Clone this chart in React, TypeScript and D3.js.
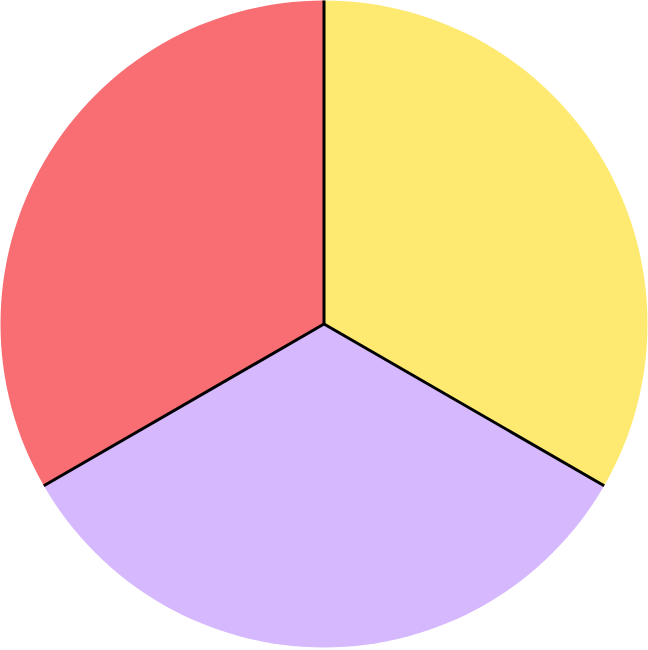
import React, { useEffect, useRef } from 'react';
import * as d3 from 'd3';

const categories = ['A', 'B', 'C'];
const values = [1, 1, 1];
const colors = ['#FEE971', '#D6B8FE', '#F96E73'];

const App: React.FC = () => {
    const ref = useRef<SVGSVGElement>(null);

    useEffect(() => {
        const width = 648;
        const height = 650;
        const cx = 324;
        const cy = 324;
        const radius = 323.5;

        const svg = d3.select(ref.current)
            .attr('width', width)
            .attr('height', height);
        svg.selectAll('*').remove();

        const data = categories.map((c, i) => ({ name: c, value: values[i], color: colors[i] }));

        const pie = d3.pie<any>().sort(null).value((d) => d.value);
        const arc = d3.arc<any>().innerRadius(0).outerRadius(radius);
        const arcs = pie(data);

        const g = svg.append('g').attr('transform', `translate(${cx},${cy})`);

        // slices without outer border
        g.selectAll('path')
            .data(arcs)
            .enter()
            .append('path')
            .attr('d', arc)
            .attr('fill', (d) => d.data.color);

        // black radial separators
        g.selectAll('line')
            .data(arcs)
            .enter()
            .append('line')
            .attr('x1', 0)
            .attr('y1', 0)
            .attr('x2', (d) => radius * Math.sin(d.startAngle))
            .attr('y2', (d) => -radius * Math.cos(d.startAngle))
            .attr('stroke', '#000')
            .attr('stroke-width', 3);
    }, []);

    return (
        <svg ref={ref} style={{ position: 'absolute', left: 0, top: 0 }}></svg>
    );
};

export default App;
